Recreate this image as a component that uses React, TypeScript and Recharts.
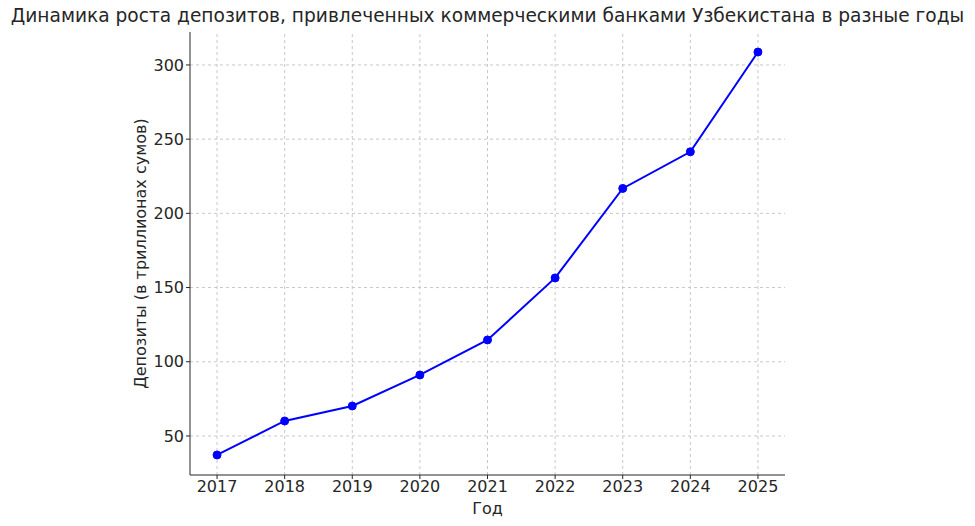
import { Label, Line, LineChart, ReferenceLine, XAxis, YAxis } from 'recharts';

const years = [2017, 2018, 2019, 2020, 2021, 2022, 2023, 2024, 2025];
const deposits = [37.2, 60.1, 70.2, 91.1, 114.7, 156.5, 216.8, 241.5, 308.7];
const yTicks = [50, 100, 150, 200, 250, 300];

const data = years.map((year, i) => ({ year, value: deposits[i] }));

const font = '"DejaVu Sans", sans-serif';
const gridStyle = { stroke: '#c8c8c8', strokeDasharray: '3 3' };

export default function App() {
  return (
    <div style={{ position: 'absolute', left: 0, top: 0, width: 975, height: 526, background: '#fff', fontFamily: font }}>
      <div style={{ position: 'absolute', left: 0, top: 5, width: 975, textAlign: 'center', fontSize: 18.6, color: '#262626', whiteSpace: 'nowrap' }}>
        Динамика роста депозитов, привлеченных коммерческими банками Узбекистана в разные годы
      </div>
      <LineChart width={975} height={526} data={data} margin={{ top: 32, right: 190, bottom: 0, left: 0 }}>
        {yTicks.map((t) => (
          <ReferenceLine key={'h' + t} y={t} {...gridStyle} />
        ))}
        {years.map((t) => (
          <ReferenceLine key={'v' + t} x={t} {...gridStyle} />
        ))}
        <XAxis
          dataKey="year"
          type="number"
          domain={[2016.6, 2025.4]}
          ticks={years}
          allowDataOverflow
          height={51}
          stroke="#262626"
          tickSize={4}
          tick={{ fill: '#262626', fontSize: 16, fontFamily: font }}
        >
          <Label value="Год" position="insideBottom" offset={12} style={{ fill: '#262626', fontSize: 16, fontFamily: font }} />
        </XAxis>
        <YAxis
          type="number"
          domain={[23.7, 322.2]}
          ticks={yTicks}
          allowDataOverflow
          width={190}
          stroke="#262626"
          tickSize={4}
          tick={{ fill: '#262626', fontSize: 16, fontFamily: font }}
        >
          <Label
            value="Депозиты (в триллионах сумов)"
            angle={-90}
            position="insideLeft"
            offset={140}
            style={{ textAnchor: 'middle', fill: '#262626', fontSize: 16, fontFamily: font }}
          />
        </YAxis>
        <Line
          type="linear"
          dataKey="value"
          stroke="#0000ff"
          strokeWidth={2}
          dot={{ r: 4, fill: '#0000ff', stroke: '#0000ff', strokeWidth: 1 }}
          isAnimationActive={false}
        />
      </LineChart>
    </div>
  );
}
